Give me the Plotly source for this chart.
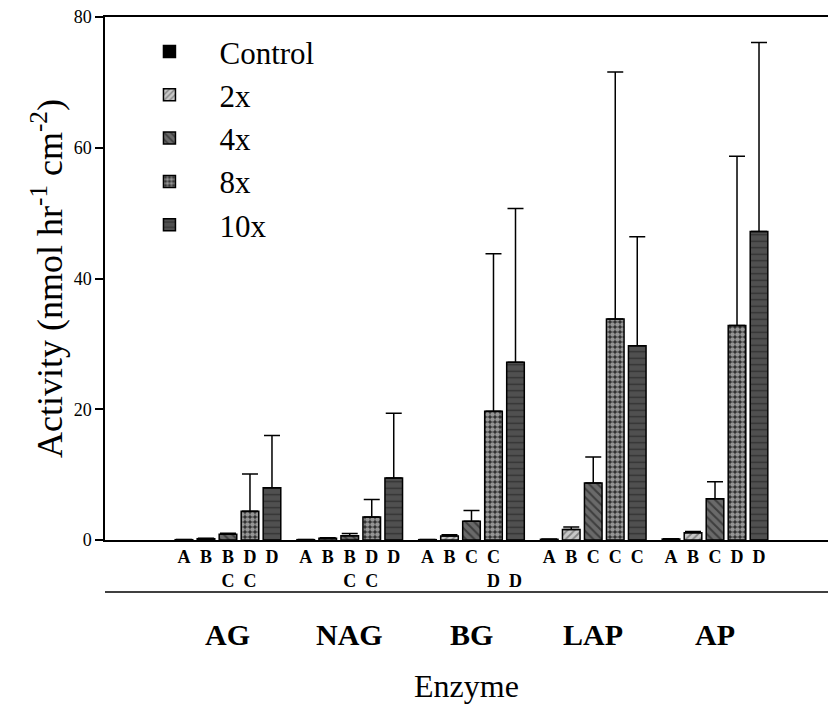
import plotly.graph_objects as go

enzymes = ["AG", "NAG", "BG", "LAP", "AP"]
treatments = ["Control", "2x", "4x", "8x", "10x"]

values = {
    "Control": [0.05, 0.05, 0.05, 0.1, 0.15],
    "2x": [0.2, 0.25, 0.6, 1.6, 1.1],
    "4x": [0.87, 0.66, 2.85, 8.7, 6.3],
    "8x": [4.4, 3.5, 19.7, 33.8, 32.8],
    "10x": [8.0, 9.5, 27.2, 29.7, 47.2],
}
errors = {
    "Control": [0.02, 0.02, 0.02, 0.05, 0.05],
    "2x": [0.05, 0.08, 0.2, 0.4, 0.2],
    "4x": [0.15, 0.35, 1.65, 4.0, 2.6],
    "8x": [5.7, 2.7, 24.1, 37.8, 25.9],
    "10x": [8.0, 9.9, 23.5, 16.7, 28.9],
}
letters = {
    "Control": ["A", "A", "A", "A", "A"],
    "2x": ["B", "B", "B", "B", "B"],
    "4x": ["B<br>C", "B<br>C", "C", "C", "C"],
    "8x": ["D<br>C", "D<br>C", "C<br>D", "C", "D"],
    "10x": ["D", "D", "&#160;<br>D", "C", "D"],
}

styles = {
    "Control": dict(color="#000000", pattern=dict(shape="")),
    "2x": dict(color="#c8c8c8", pattern=dict(shape="/", fgcolor="#404040", bgcolor="#c8c8c8", size=5, solidity=0.35)),
    "4x": dict(color="#6a6a6a", pattern=dict(shape="\\", fgcolor="#111111", bgcolor="#6a6a6a", size=6, solidity=0.35)),
    "8x": dict(color="#2a2a2a", pattern=dict(shape=".", fgcolor="#ffffff", bgcolor="#2a2a2a", size=5, solidity=0.65)),
    "10x": dict(color="#505050", pattern=dict(shape="-", fgcolor="#111111", bgcolor="#505050", size=6.5, solidity=0.2)),
}

FONT = "Liberation Serif, serif"
bargap = 0.0965
slot = (1 - bargap) / len(treatments)

fig = go.Figure()
xpos = list(range(len(enzymes)))
for t in treatments:
    st = styles[t]
    fig.add_trace(go.Bar(
        name=t, x=xpos, y=values[t],
        marker=dict(color=st["color"], pattern=st["pattern"],
                    line=dict(color="black", width=1.5)),
        error_y=dict(type="data", array=errors[t], arrayminus=[0] * 5, symmetric=False,
                     color="black", thickness=1.5, width=8),
    ))

tickvals, ticktext = [], []
for k, t in enumerate(treatments):
    for g in xpos:
        tickvals.append(g + (k - 2) * slot)
        ticktext.append(letters[t][g])

fig.update_layout(
    width=828, height=707,
    margin=dict(l=105, r=0, t=17, b=167),
    paper_bgcolor="white", plot_bgcolor="white",
    barmode="group", bargap=bargap, bargroupgap=0.2,
    font=dict(family=FONT, color="black"),
    legend=dict(x=0.02, y=0.985, xanchor="left", yanchor="top",
                font=dict(size=31, family=FONT, color="black"), bgcolor="rgba(0,0,0,0)",
                itemwidth=90, tracegroupgap=0),
    xaxis=dict(range=[-1.010, 4.928], showline=True, mirror=True, linecolor="black",
               linewidth=1.5, showgrid=False, zeroline=False, ticks="",
               tickmode="array", tickvals=tickvals, ticktext=ticktext,
               tickfont=dict(size=18, family=FONT, color="black", weight="bold"), tickangle=0),
    yaxis=dict(range=[0, 80], showline=True, linecolor="black", linewidth=1.5,
               showgrid=False, zeroline=False, ticks="outside", ticklen=8, tickwidth=1.5,
               tickcolor="black", tickvals=[0, 20, 40, 60, 80],
               tickfont=dict(size=18, family=FONT, color="black"),
               title=dict(text="Activity (nmol hr<sup>-1</sup> cm<sup>-2</sup>)",
                          font=dict(size=36, family=FONT, color="black"), standoff=0)),
)

# lower axis line
fig.add_shape(type="line", xref="paper", yref="paper", x0=0, x1=1, y0=-0.0994, y1=-0.0994,
              line=dict(color="black", width=1.5))
for g, name in zip(xpos, enzymes):
    fig.add_annotation(x=g, xref="x", y=-0.18, yref="paper", text=name, showarrow=False,
                       font=dict(size=30, family=FONT, weight="bold", color="black"), yanchor="middle")
fig.add_annotation(x=0.5, xref="paper", y=-0.28, yref="paper", text="Enzyme", showarrow=False,
                   font=dict(size=32, family=FONT, color="black"), yanchor="middle")

fig.write_html("out.html")
